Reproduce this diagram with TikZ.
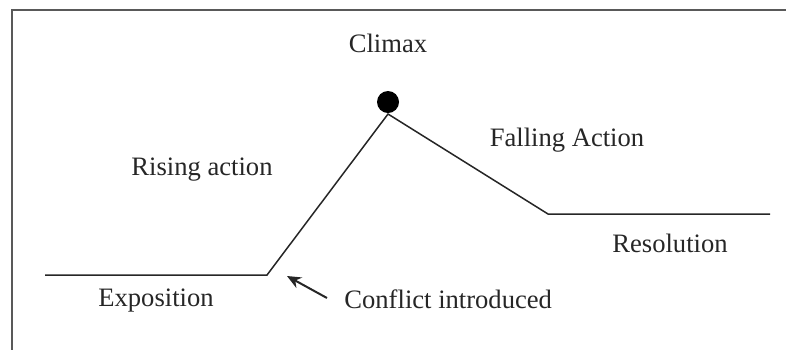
\documentclass[tikz,border=0pt]{standalone}
\usepackage{fontspec}
\setmainfont{Liberation Serif}
\usetikzlibrary{arrows.meta}
\begin{document}
\begin{tikzpicture}[x=0.5pt,y=-0.5pt,
  lbl/.style={font=\fontsize{13.3}{15}\selectfont, text=black!85, inner sep=0pt},
  plot/.style={line width=0.75pt, draw=black!85},
  frame/.style={line width=1pt, draw=black!65}]
\useasboundingbox (0,0) rectangle (786,350);
\draw[frame] (11,10) -- (786,10);
\draw[frame] (12,10) -- (12,350);
\coordinate (a) at (45,275);
\coordinate (b) at (267,275);
\coordinate (c) at (388,114);
\coordinate (d) at (548,214);
\coordinate (e) at (770,214);
\draw[plot] (a) -- (b) -- (c) -- (d) -- (e);
\node[circle, fill=black, minimum size=11pt, inner sep=0pt] (dot) at (388,102) {};
\node[lbl] (climax) at (388,43) {Climax};
\node[lbl] (rising) at (202,170) {Rising action};
\node[lbl] (falling) at (567,140) {Falling Action};
\node[lbl] (resol) at (670,243) {Resolution};
\node[lbl] (expo) at (156,301) {Exposition};
\node[lbl, anchor=west] (conf) at (344,299) {Conflict introduced};
\coordinate (tip) at (287,276);
\coordinate (tail) at (327,298);
\draw[plot, line width=1pt, -{Stealth[length=7pt,width=6pt]}] (tail) -- (tip);
\end{tikzpicture}
\end{document}
